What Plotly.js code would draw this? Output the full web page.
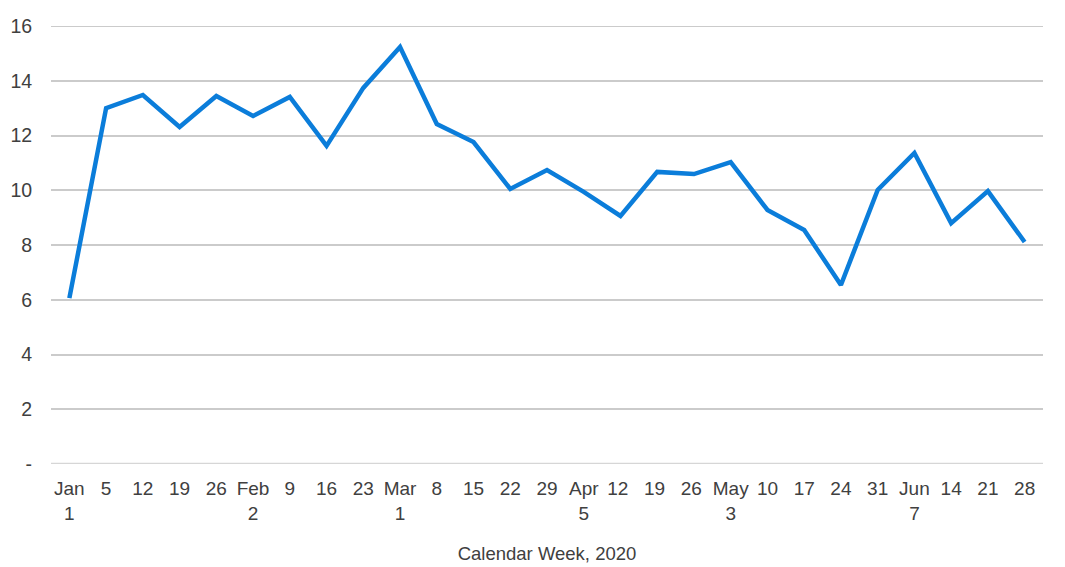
<!DOCTYPE html>
<html><head><meta charset="utf-8">
<script src="https://cdn.plot.ly/plotly-3.0.1.min.js"></script>
<style>html,body{margin:0;padding:0;background:#fff;}#chart{width:1065px;height:567px;}</style>
</head><body><div id="chart"></div>
<script>
const weeks = ["Jan<br>1","5","12","19","26","Feb<br>2","9","16","23","Mar<br>1","8","15","22","29","Apr<br>5","12 ","19 ","26 ","May<br>3","10","17","24","31","Jun<br>7","14","21","28"];
const values = [6.06,13.0,13.48,12.31,13.44,12.71,13.41,11.62,13.74,15.23,12.42,11.76,10.05,10.74,9.94,9.06,10.67,10.59,11.03,9.28,8.55,6.54,10.01,11.36,8.80,9.97,8.11];
const yTicks = [0,2,4,6,8,10,12,14,16];
const yTickText = ["-","2","4","6","8","10","12","14","16"];

const idx = weeks.map((_, i) => i);
Plotly.newPlot('chart', [{
  x: idx, y: values, type: 'scatter', mode: 'lines',
  line: {color: '#0b7dda', width: 4.5}, hoverinfo: 'skip'
}], {
  width: 1065, height: 567,
  margin: {l: 51, r: 21.5, t: 26, b: 103},
  paper_bgcolor: '#fff', plot_bgcolor: '#fff',
  font: {family: 'Liberation Sans, Arial, sans-serif', size: 19, color: '#404040'},
  showlegend: false,
  xaxis: {
    type: 'linear', range: [-0.5, 26.5], tickmode: 'array', tickvals: idx, ticktext: weeks,
    showgrid: false, zeroline: false, showline: false,
    ticks: 'outside', ticklen: 7, tickcolor: 'rgba(0,0,0,0)', tickangle: 0,
    tickfont: {size: 19, color: '#404040'},
    title: {text: 'Calendar Week, 2020', font: {size: 18.5, color: '#404040'}, standoff: 24}
  },
  yaxis: {
    range: [0, 16], tickmode: 'array', tickvals: yTicks, ticktext: yTickText,
    showgrid: true, gridcolor: '#cbcbcb', gridwidth: 2,
    zeroline: false, showline: false,
    ticks: 'outside', ticklen: 14, tickcolor: 'rgba(0,0,0,0)',
    tickfont: {size: 19.5, color: '#404040'}
  },
  shapes: [
    {type: 'line', xref: 'paper', yref: 'y', x0: 0, x1: 1, y0: 0, y1: 0, line: {color: '#d6d6d6', width: 2.5}, layer: 'below'},
    {type: 'line', xref: 'paper', yref: 'y', x0: 0, x1: 1, y0: 16, y1: 16, line: {color: '#cbcbcb', width: 2}, layer: 'below'}
  ]
}, {displayModeBar: false, staticPlot: true});
</script></body></html>
